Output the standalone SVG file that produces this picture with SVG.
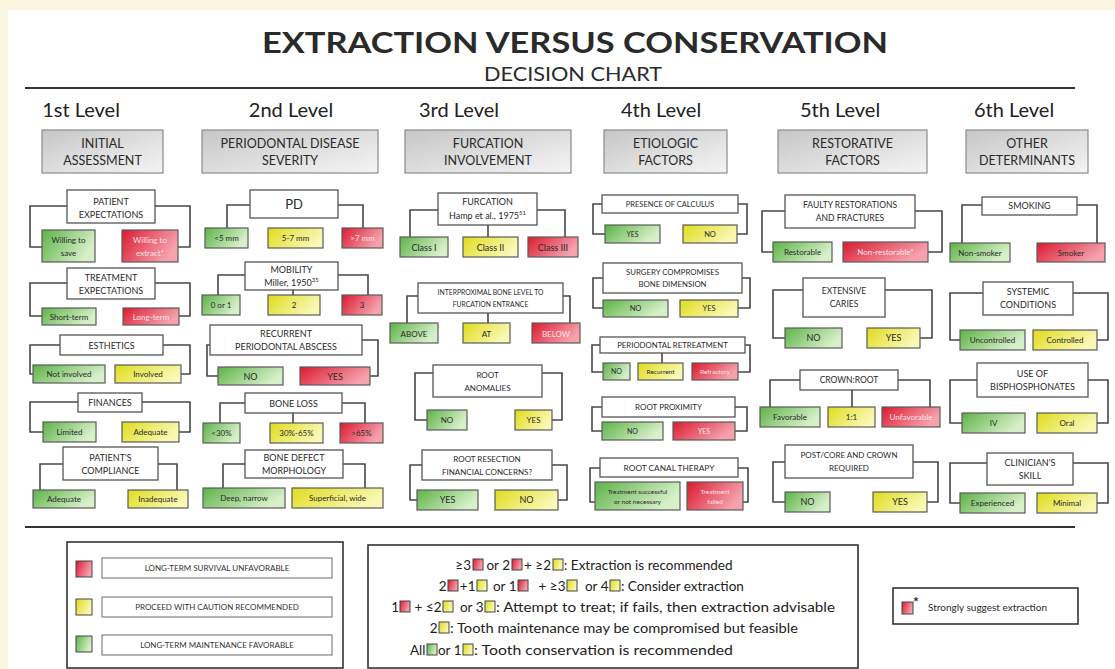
<svg xmlns="http://www.w3.org/2000/svg" width="1115" height="669" viewBox="0 0 1115 669">
<defs>
<linearGradient id="gG" x1="0" y1="0" x2="1" y2="0.4"><stop offset="0" stop-color="#5db347"/><stop offset="1" stop-color="#d8f0ca"/></linearGradient>
<linearGradient id="gY" x1="0" y1="0" x2="1" y2="0.4"><stop offset="0" stop-color="#e0dc1c"/><stop offset="1" stop-color="#f9f8b4"/></linearGradient>
<linearGradient id="gR" x1="0" y1="0" x2="1" y2="0.4"><stop offset="0" stop-color="#dc1a30"/><stop offset="1" stop-color="#f5a2ad"/></linearGradient>
<linearGradient id="gH" x1="0" y1="0" x2="1" y2="1"><stop offset="0" stop-color="#c6c6c6"/><stop offset="1" stop-color="#f5f5f5"/></linearGradient>
<style>
text{font-family:Lato,"Liberation Sans",sans-serif;fill:#2a2a2a}
.m{text-anchor:middle}
.e{text-anchor:end}
.nb{fill:#fff;stroke:#555;stroke-width:1.3}
.hb{fill:url(#gH);stroke:#8a8a8a;stroke-width:1.2}
.g{fill:url(#gG);stroke:#5a5a5a;stroke-width:1.2}
.y{fill:url(#gY);stroke:#5a5a5a;stroke-width:1.2}
.r{fill:url(#gR);stroke:#5a5a5a;stroke-width:1.2}
.p{font-size:9px;text-anchor:middle}
.s{font-size:8px;text-anchor:middle}
.lt{fill:#ffe3e8}
.lv{font-size:20px;text-anchor:middle;fill:#222}
.hd{font-size:12.5px;text-anchor:middle}
.conn path{fill:none;stroke:#474747;stroke-width:1.6}
.lg{font-size:13.5px;fill:#222}
.sq{stroke:#444;stroke-width:1}
.lb{font-size:8px;text-anchor:middle;fill:#333}
</style>
</defs>
<rect x="0" y="0" width="1115" height="669" fill="#fbf6df"/>
<rect x="8" y="10" width="1107" height="659" fill="#ffffff"/>

<g id="title">
<text x="575" y="53" class="m" font-size="29" font-weight="bold" fill="#2a2a2a" textLength="626" lengthAdjust="spacingAndGlyphs">EXTRACTION VERSUS CONSERVATION</text>
<text x="573" y="81" class="m" font-size="19" textLength="178" lengthAdjust="spacingAndGlyphs">DECISION CHART</text>
<line x1="25" y1="88" x2="1075" y2="88" stroke="#333" stroke-width="2"/>
<line x1="25" y1="527" x2="1075" y2="527" stroke="#333" stroke-width="2"/>
</g>

<g id="levels">
<text x="81" y="117" class="lv">1st Level</text>
<text x="291" y="117" class="lv">2nd Level</text>
<text x="459" y="117" class="lv">3rd Level</text>
<text x="661" y="117" class="lv">4th Level</text>
<text x="840" y="117" class="lv">5th Level</text>
<text x="1014" y="117" class="lv">6th Level</text>
</g>

<g id="headers">
<g id="h1"><rect x="42" y="130" width="121" height="43" class="hb"/><text x="102.5" y="148" class="hd">INITIAL</text><text x="102.5" y="165" class="hd">ASSESSMENT</text></g>
<g id="h2"><rect x="202" y="130" width="176" height="43" class="hb"/><text x="290" y="148" class="hd">PERIODONTAL DISEASE</text><text x="290" y="165" class="hd">SEVERITY</text></g>
<g id="h3"><rect x="405" y="130" width="166" height="43" class="hb"/><text x="488" y="148" class="hd">FURCATION</text><text x="488" y="165" class="hd">INVOLVEMENT</text></g>
<g id="h4"><rect x="604" y="130" width="123" height="43" class="hb"/><text x="665.5" y="148" class="hd">ETIOLOGIC</text><text x="665.5" y="165" class="hd">FACTORS</text></g>
<g id="h5"><rect x="778" y="130" width="149" height="43" class="hb"/><text x="852.5" y="148" class="hd">RESTORATIVE</text><text x="852.5" y="165" class="hd">FACTORS</text></g>
<g id="h6"><rect x="966" y="130" width="122" height="43" class="hb"/><text x="1027" y="148" class="hd">OTHER</text><text x="1027" y="165" class="hd">DETERMINANTS</text></g>
</g>

<g id="connectors" class="conn">
<path d="M67,206 H30 V247 H42"/><path d="M155,206 H190 V247 H178"/>
<path d="M67,283 H30 V316 H42"/><path d="M155,283 H190 V316 H179"/>
<path d="M60,345 H30 V374 H33"/><path d="M163,345 H190 V374 H181"/>
<path d="M78,402 H30 V432 H43"/><path d="M142,402 H190 V432 H179"/>
<path d="M63,464 H40 V490"/><path d="M158,464 H177 V490"/>

<path d="M250,205 H227 V228"/><path d="M338,205 H363 V228"/>
<path d="M245,275 H218 V295"/><path d="M338,275 H368 V295"/><path d="M293,290 V295"/>
<path d="M210,345 H207 V376 H218"/><path d="M362,340 H378 V376 H370"/>
<path d="M245,403 H220 V423"/><path d="M342,403 H365 V423"/><path d="M293,413 V423"/>
<path d="M245,464 H223 V488"/><path d="M343,464 H365 V488"/>

<path d="M438,210 H410 V237"/><path d="M537,210 H565 V237"/><path d="M488,225 V237"/>
<path d="M418,296 H407 V323"/><path d="M563,296 H570 V323"/><path d="M488,313 V323"/>
<path d="M433,373 H415 V420 H427"/><path d="M542,373 H562 V420 H552"/>
<path d="M422,465 H410 V500 H417"/><path d="M552,465 H567 V500 H558"/>

<path d="M602,204 H593 V234 H605"/><path d="M738,204 H747 V234 H737"/>
<path d="M603,278 H593 V308 H603"/><path d="M742,278 H750 V308 H738"/>
<path d="M600,345 H592 V372 H603"/><path d="M745,345 H750 V372 H738"/><path d="M662,353 V363"/>
<path d="M602,407 H592 V431 H602"/><path d="M735,407 H747 V431 H735"/>
<path d="M600,468 H590 V502 H595"/><path d="M738,468 H748 V502 H743"/>

<path d="M785,211 H762 V252 H773"/><path d="M915,211 H942 V252 H928"/>
<path d="M803,290 H773 V338 H785"/><path d="M885,290 H932 V338 H920"/>
<path d="M800,380 H770 V407"/><path d="M898,380 H930 V407"/><path d="M852,390 V407"/>
<path d="M785,462 H773 V502 H785"/><path d="M913,462 H938 V502 H927"/>

<path d="M982,205 H962 V243"/><path d="M1077,205 H1097 V243"/>
<path d="M983,293 H950 V340 H960"/><path d="M1073,293 H1108 V340 H1097"/>
<path d="M977,380 H950 V423 H962"/><path d="M1088,380 H1108 V423 H1097"/>
<path d="M987,463 H950 V503 H960"/><path d="M1073,463 H1108 V503 H1097"/>
</g>

<!-- Column 1 -->
<g id="patient-expectations">
<rect x="67" y="190" width="88" height="33" class="nb"/><text x="111" y="205" class="p">PATIENT</text><text x="111" y="218" class="p">EXPECTATIONS</text>
<rect x="42" y="230" width="53" height="32" class="g"/><text x="68.5" y="243" class="s">Willing to</text><text x="68.5" y="256" class="s">save</text>
<rect x="122" y="230" width="56" height="32" class="r"/><text x="150" y="243" class="s lt">Willing to</text><text x="150" y="256" class="s lt">extract*</text>
</g>
<g id="treatment-expectations">
<rect x="67" y="268" width="88" height="31" class="nb"/><text x="111" y="281" class="p">TREATMENT</text><text x="111" y="294" class="p">EXPECTATIONS</text>
<rect x="42" y="308" width="54" height="17" class="g"/><text x="69" y="319.5" class="s">Short-term</text>
<rect x="123" y="308" width="56" height="17" class="r"/><text x="151" y="319.5" class="s lt">Long-term</text>
</g>
<g id="esthetics">
<rect x="60" y="335" width="103" height="20" class="nb"/><text x="111.5" y="348.5" class="p">ESTHETICS</text>
<rect x="33" y="365" width="72" height="18" class="g"/><text x="69" y="377" class="s">Not involved</text>
<rect x="115" y="365" width="66" height="18" class="y"/><text x="148" y="377" class="s">Involved</text>
</g>
<g id="finances">
<rect x="78" y="393" width="64" height="19" class="nb"/><text x="110" y="405.5" class="p">FINANCES</text>
<rect x="43" y="422" width="53" height="20" class="g"/><text x="69.5" y="435" class="s">Limited</text>
<rect x="122" y="422" width="57" height="20" class="y"/><text x="150.5" y="435" class="s">Adequate</text>
</g>
<g id="patients-compliance">
<rect x="63" y="447" width="95" height="33" class="nb"/><text x="110.5" y="461" class="p">PATIENT'S</text><text x="110.5" y="474" class="p">COMPLIANCE</text>
<rect x="33" y="490" width="62" height="18" class="g"/><text x="64" y="502" class="s">Adequate</text>
<rect x="128" y="490" width="60" height="18" class="y"/><text x="158" y="502" class="s">Inadequate</text>
</g>

<!-- Column 2 -->
<g id="pd">
<rect x="250" y="190" width="88" height="28" class="nb"/><text x="294" y="209" class="m" font-size="13">PD</text>
<rect x="205" y="228" width="43" height="20" class="g"/><text x="226.5" y="241" class="s">&lt;5 mm</text>
<rect x="268" y="228" width="55" height="20" class="y"/><text x="295.5" y="241" class="s">5-7 mm</text>
<rect x="342" y="228" width="41" height="20" class="r"/><text x="362.5" y="241" class="s lt">&gt;7 mm</text>
</g>
<g id="mobility">
<rect x="245" y="262" width="93" height="28" class="nb"/><text x="291.5" y="273" class="p" font-size="9.5">MOBILITY</text><text x="291.5" y="286" class="p" font-size="9.5">Miller, 1950<tspan font-size="6" dy="-4">35</tspan></text>
<rect x="202" y="295" width="38" height="20" class="g"/><text x="221" y="308" class="s">0 or 1</text>
<rect x="268" y="295" width="52" height="20" class="y"/><text x="294" y="308" class="s">2</text>
<rect x="342" y="295" width="40" height="20" class="r"/><text x="362" y="308" class="s">3</text>
</g>
<g id="recurrent-abscess">
<rect x="210" y="325" width="152" height="30" class="nb"/><text x="286" y="337" class="p">RECURRENT</text><text x="286" y="350" class="p">PERIODONTAL ABSCESS</text>
<rect x="218" y="367" width="65" height="18" class="g"/><text x="250.5" y="379.5" class="p">NO</text>
<rect x="300" y="367" width="70" height="18" class="r"/><text x="335" y="379.5" class="p">YES</text>
</g>
<g id="bone-loss">
<rect x="245" y="393" width="97" height="20" class="nb"/><text x="293.5" y="406.5" class="p">BONE LOSS</text>
<rect x="203" y="423" width="37" height="20" class="g"/><text x="221.5" y="436" class="s">&lt;30%</text>
<rect x="270" y="423" width="53" height="20" class="y"/><text x="296.5" y="436" class="s">30%-65%</text>
<rect x="340" y="423" width="43" height="20" class="r"/><text x="361.5" y="436" class="s">&gt;65%</text>
</g>
<g id="bone-defect">
<rect x="245" y="450" width="98" height="28" class="nb"/><text x="294" y="461" class="p">BONE DEFECT</text><text x="294" y="474" class="p">MORPHOLOGY</text>
<rect x="203" y="488" width="82" height="20" class="g"/><text x="244" y="501" class="s">Deep, narrow</text>
<rect x="292" y="488" width="91" height="20" class="y"/><text x="337.5" y="501" class="s">Superficial, wide</text>
</g>

<!-- Column 3 -->
<g id="furcation">
<rect x="438" y="193" width="99" height="32" class="nb"/><text x="487.5" y="205" class="p">FURCATION</text><text x="487.5" y="219" class="p">Hamp et al., 1975<tspan font-size="6" dy="-4">51</tspan></text>
<rect x="400" y="237" width="48" height="20" class="g"/><text x="424" y="250.5" class="p">Class I</text>
<rect x="463" y="237" width="55" height="20" class="y"/><text x="490.5" y="250.5" class="p">Class II</text>
<rect x="528" y="237" width="50" height="20" class="r"/><text x="553" y="250.5" class="p">Class III</text>
</g>
<g id="interproximal">
<rect x="418" y="283" width="145" height="30" class="nb"/><text x="490.5" y="295" class="m" font-size="6.8">INTERPROXIMAL BONE LEVEL TO</text><text x="490.5" y="307" class="m" font-size="6.8">FURCATION ENTRANCE</text>
<rect x="390" y="323" width="48" height="20" class="g"/><text x="414" y="336.5" class="s">ABOVE</text>
<rect x="463" y="323" width="47" height="20" class="y"/><text x="486.5" y="336.5" class="s">AT</text>
<rect x="532" y="323" width="48" height="20" class="r"/><text x="556" y="336.5" class="s lt">BELOW</text>
</g>
<g id="root-anomalies">
<rect x="433" y="365" width="109" height="32" class="nb"/><text x="487.5" y="378" class="s">ROOT</text><text x="487.5" y="391" class="s">ANOMALIES</text>
<rect x="427" y="410" width="40" height="20" class="g"/><text x="447" y="423" class="s">NO</text>
<rect x="515" y="410" width="37" height="20" class="y"/><text x="533.5" y="423" class="s">YES</text>
</g>
<g id="root-resection">
<rect x="422" y="450" width="130" height="30" class="nb"/><text x="487" y="462" class="s">ROOT RESECTION</text><text x="487" y="475" class="s">FINANCIAL CONCERNS?</text>
<rect x="417" y="490" width="61" height="20" class="g"/><text x="447.5" y="503" class="p">YES</text>
<rect x="495" y="490" width="63" height="20" class="y"/><text x="526.5" y="503" class="p">NO</text>
</g>

<!-- Column 4 -->
<g id="calculus">
<rect x="602" y="195" width="136" height="18" class="nb"/><text x="670" y="207" class="m" font-size="7.5">PRESENCE OF CALCULUS</text>
<rect x="605" y="225" width="55" height="18" class="g"/><text x="632.5" y="237" class="m" font-size="7">YES</text>
<rect x="683" y="225" width="54" height="18" class="y"/><text x="710" y="237" class="m" font-size="7.5">NO</text>
</g>
<g id="surgery-bone">
<rect x="603" y="263" width="139" height="30" class="nb"/><text x="672.5" y="275" class="m" font-size="7.8">SURGERY COMPROMISES</text><text x="672.5" y="287" class="m" font-size="7.8">BONE DIMENSION</text>
<rect x="603" y="300" width="65" height="17" class="g"/><text x="635.5" y="311" class="m" font-size="7.5">NO</text>
<rect x="680" y="300" width="58" height="17" class="y"/><text x="709" y="311" class="m" font-size="7.5">YES</text>
</g>
<g id="retreatment">
<rect x="600" y="337" width="145" height="16" class="nb"/><text x="672.5" y="348" class="m" font-size="7.8">PERIODONTAL RETREATMENT</text>
<rect x="603" y="363" width="27" height="17" class="g"/><text x="616.5" y="374" class="m" font-size="7">NO</text>
<rect x="638" y="363" width="45" height="17" class="y"/><text x="660.5" y="374" class="m" font-size="6.5">Recurrent</text>
<rect x="692" y="363" width="46" height="17" class="r"/><text x="715" y="374" class="m lt" font-size="6.5">Refractory</text>
</g>
<g id="root-proximity">
<rect x="602" y="397" width="133" height="20" class="nb"/><text x="668.5" y="410" class="m" font-size="8">ROOT PROXIMITY</text>
<rect x="602" y="422" width="61" height="18" class="g"/><text x="632.5" y="434" class="m" font-size="7">NO</text>
<rect x="673" y="422" width="62" height="18" class="r"/><text x="704" y="434" class="m lt" font-size="7">YES</text>
</g>
<g id="root-canal">
<rect x="600" y="458" width="138" height="19" class="nb"/><text x="669" y="470.5" class="m" font-size="8.3">ROOT CANAL THERAPY</text>
<rect x="595" y="482" width="85" height="28" class="g"/><text x="637.5" y="494" class="m" font-size="6.5">Treatment successful</text><text x="637.5" y="503.5" class="m" font-size="6.5">or not necessary</text>
<rect x="687" y="482" width="56" height="28" class="r"/><text x="715" y="494" class="m lt" font-size="6.5">Treatment</text><text x="715" y="503.5" class="m lt" font-size="6.5">failed</text>
</g>

<!-- Column 5 -->
<g id="faulty-restorations">
<rect x="785" y="195" width="130" height="33" class="nb"/><text x="850" y="208" class="m" font-size="8.5">FAULTY RESTORATIONS</text><text x="850" y="221" class="m" font-size="8.5">AND FRACTURES</text>
<rect x="773" y="242" width="59" height="20" class="g"/><text x="802.5" y="255" class="s">Restorable</text>
<rect x="843" y="242" width="85" height="20" class="r"/><text x="885.5" y="255" class="s lt">Non-restorable*</text>
</g>
<g id="extensive-caries">
<rect x="803" y="278" width="82" height="39" class="nb"/><text x="844" y="294" class="m" font-size="8.5">EXTENSIVE</text><text x="844" y="307" class="m" font-size="8.5">CARIES</text>
<rect x="785" y="328" width="57" height="20" class="g"/><text x="813.5" y="341" class="p">NO</text>
<rect x="867" y="328" width="53" height="20" class="y"/><text x="893.5" y="341" class="p">YES</text>
</g>
<g id="crown-root">
<rect x="800" y="370" width="98" height="20" class="nb"/><text x="849" y="383" class="m" font-size="8.5">CROWN:ROOT</text>
<rect x="760" y="407" width="60" height="20" class="g"/><text x="790" y="420" class="s">Favorable</text>
<rect x="828" y="407" width="47" height="20" class="y"/><text x="851.5" y="420" class="s">1:1</text>
<rect x="882" y="407" width="58" height="20" class="r"/><text x="911" y="420" class="s lt">Unfavorable</text>
</g>
<g id="post-core">
<rect x="785" y="445" width="128" height="33" class="nb"/><text x="849" y="458" class="m" font-size="8">POST/CORE AND CROWN</text><text x="849" y="471" class="m" font-size="8">REQUIRED</text>
<rect x="785" y="492" width="45" height="20" class="g"/><text x="807.5" y="505" class="p">NO</text>
<rect x="873" y="492" width="54" height="20" class="y"/><text x="900" y="505" class="p">YES</text>
</g>

<!-- Column 6 -->
<g id="smoking">
<rect x="982" y="197" width="95" height="18" class="nb"/><text x="1029.5" y="209" class="p">SMOKING</text>
<rect x="950" y="243" width="60" height="19" class="g"/><text x="980" y="255.5" class="s">Non-smoker</text>
<rect x="1037" y="243" width="68" height="19" class="r"/><text x="1071" y="255.5" class="s">Smoker</text>
</g>
<g id="systemic">
<rect x="983" y="282" width="90" height="33" class="nb"/><text x="1028" y="295" class="p">SYSTEMIC</text><text x="1028" y="308" class="p">CONDITIONS</text>
<rect x="960" y="330" width="65" height="20" class="g"/><text x="992.5" y="343" class="s">Uncontrolled</text>
<rect x="1033" y="330" width="64" height="20" class="y"/><text x="1065" y="343" class="s">Controlled</text>
</g>
<g id="bisphosphonates">
<rect x="977" y="363" width="111" height="34" class="nb"/><text x="1032.5" y="377" class="p">USE OF</text><text x="1032.5" y="390" class="p">BISPHOSPHONATES</text>
<rect x="962" y="413" width="63" height="20" class="g"/><text x="993.5" y="426" class="s">IV</text>
<rect x="1037" y="413" width="60" height="20" class="y"/><text x="1067" y="426" class="s">Oral</text>
</g>
<g id="clinician-skill">
<rect x="987" y="453" width="86" height="32" class="nb"/><text x="1030" y="466" class="p">CLINICIAN'S</text><text x="1030" y="479" class="p">SKILL</text>
<rect x="960" y="493" width="65" height="20" class="g"/><text x="992.5" y="506" class="s">Experienced</text>
<rect x="1037" y="493" width="60" height="20" class="y"/><text x="1067" y="506" class="s">Minimal</text>
</g>

<!-- Legends -->
<g id="legend-colors">
<rect x="67" y="542" width="276" height="126" fill="#fff" stroke="#333" stroke-width="1.6"/>
<rect x="76" y="561" width="16" height="16" class="r sq"/>
<rect x="102" y="558" width="230" height="20" fill="#fff" stroke="#777" stroke-width="1.1"/>
<text x="217" y="571" class="lb">LONG-TERM SURVIVAL UNFAVORABLE</text>
<rect x="76" y="599" width="16" height="16" class="y sq"/>
<rect x="102" y="597" width="230" height="20" fill="#fff" stroke="#777" stroke-width="1.1"/>
<text x="217" y="610" class="lb">PROCEED WITH CAUTION RECOMMENDED</text>
<rect x="76" y="636" width="16" height="16" class="g sq"/>
<rect x="102" y="635" width="230" height="20" fill="#fff" stroke="#777" stroke-width="1.1"/>
<text x="217" y="648" class="lb">LONG-TERM MAINTENANCE FAVORABLE</text>
</g>

<g id="legend-rules">
<rect x="368" y="545" width="490" height="123" fill="#fff" stroke="#333" stroke-width="1.6"/>
<text x="471" y="570" class="lg e">≥3</text><rect x="473" y="559" width="10" height="11" class="r sq"/>
<text x="510" y="570" class="lg e">or 2</text><rect x="512" y="559" width="10" height="11" class="r sq"/>
<text x="551" y="570" class="lg e">+ ≥2</text><rect x="553" y="559" width="10" height="11" class="y sq"/>
<text x="564" y="570" class="lg" font-size="14.5">: Extraction is recommended</text>

<text x="446.5" y="591" class="lg e">2</text><rect x="448" y="580" width="10" height="11" class="r sq"/>
<text x="475.5" y="591" class="lg e">+1</text><rect x="477" y="580" width="10" height="11" class="y sq"/>
<text x="516.5" y="591" class="lg e">or 1</text><rect x="518" y="580" width="10" height="11" class="r sq"/>
<text x="565.5" y="591" class="lg e">+  ≥3</text><rect x="567" y="580" width="10" height="11" class="y sq"/>
<text x="608.5" y="591" class="lg e">or 4</text><rect x="610" y="580" width="10" height="11" class="y sq"/>
<text x="621" y="591" class="lg" font-size="14.5">: Consider extraction</text>

<text x="399" y="612" class="lg e">1</text><rect x="400" y="601" width="10" height="11" class="r sq"/>
<text x="441.5" y="612" class="lg e">+ ≤2</text><rect x="443" y="601" width="10" height="11" class="y sq"/>
<text x="483.5" y="612" class="lg e">or 3</text><rect x="485" y="601" width="10" height="11" class="y sq"/>
<text x="496" y="612" class="lg" textLength="339" lengthAdjust="spacingAndGlyphs">: Attempt to treat; if fails, then extraction advisable</text>

<text x="437.5" y="633" class="lg e">2</text><rect x="439" y="622" width="10" height="11" class="y sq"/>
<text x="450" y="633" class="lg" textLength="348" lengthAdjust="spacingAndGlyphs">: Tooth maintenance may be compromised but feasible</text>

<text x="425.5" y="655" class="lg e">All</text><rect x="427" y="644" width="10" height="11" class="g sq"/>
<text x="461.5" y="655" class="lg e">or 1</text><rect x="463" y="644" width="10" height="11" class="y sq"/>
<text x="474" y="655" class="lg" textLength="259" lengthAdjust="spacingAndGlyphs">: Tooth conservation is recommended</text>
</g>

<g id="legend-strong">
<rect x="893" y="588" width="185" height="36" fill="#fff" stroke="#333" stroke-width="1.6"/>
<rect x="902" y="602" width="11" height="12" class="r sq"/>
<text x="913" y="607" font-size="14" font-weight="bold" fill="#222">*</text>
<text x="928" y="611" font-size="10" fill="#222">Strongly suggest extraction</text>
</g>
</svg>
